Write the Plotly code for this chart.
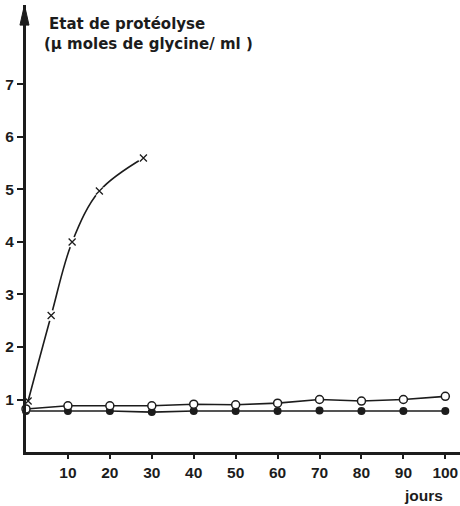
import plotly.graph_objects as go

# Data
days_cross = [0.5, 6, 11, 17.5, 28]
vals_cross = [0.97, 2.6, 4.0, 4.97, 5.6]

days = [0, 10, 20, 30, 40, 50, 60, 70, 80, 90, 100]
vals_open = [0.82, 0.88, 0.88, 0.88, 0.91, 0.90, 0.93, 1.00, 0.97, 1.00, 1.06]
vals_filled = [0.78, 0.78, 0.78, 0.76, 0.78, 0.78, 0.78, 0.79, 0.78, 0.78, 0.78]

x_ticks = [10, 20, 30, 40, 50, 60, 70, 80, 90, 100]
y_ticks = [1, 2, 3, 4, 5, 6, 7]

INK = "#1c1c1c"
FONT = "Liberation Sans"
TFONT = "DejaVu Sans"

fig = go.Figure()

# filled circles series
fig.add_trace(go.Scatter(
    x=days, y=vals_filled, mode="lines+markers",
    line=dict(color=INK, width=1.6),
    marker=dict(symbol="circle", size=8, color=INK),
    cliponaxis=False, showlegend=False))

# open circles series
fig.add_trace(go.Scatter(
    x=days, y=vals_open, mode="lines+markers",
    line=dict(color=INK, width=1.6),
    marker=dict(symbol="circle", size=8, color="white", line=dict(color=INK, width=1.5)),
    cliponaxis=False, showlegend=False))

# crosses series: line, white halo (gaps), crosses
fig.add_trace(go.Scatter(
    x=days_cross, y=vals_cross, mode="lines",
    line=dict(color=INK, width=1.6), line_shape="spline",
    cliponaxis=False, showlegend=False))
fig.add_trace(go.Scatter(
    x=days_cross[1:], y=vals_cross[1:], mode="markers",
    marker=dict(symbol="circle", size=11, color="white"),
    cliponaxis=False, showlegend=False))
fig.add_trace(go.Scatter(
    x=days_cross, y=vals_cross, mode="markers",
    marker=dict(symbol="x-thin", size=7, line=dict(color=INK, width=1.3)),
    cliponaxis=False, showlegend=False))

fig.update_layout(
    width=460, height=506,
    margin=dict(l=26, r=0, t=5, b=54),
    paper_bgcolor="white", plot_bgcolor="white",
    font=dict(family=FONT, color=INK, size=16),
    xaxis=dict(range=[0, 103.5], showgrid=False, zeroline=False,
               showline=True, linecolor=INK, linewidth=3,
               tickvals=x_ticks, ticktext=[f"<b>{v}</b>" for v in x_ticks],
               ticks="outside", ticklen=4, tickwidth=1.5, tickcolor=INK,
               tickfont=dict(size=15.5, family=FONT, color=INK)),
    yaxis=dict(range=[0, 8.514], showgrid=False, zeroline=False,
               showline=True, linecolor=INK, linewidth=3,
               tickvals=y_ticks, ticktext=[f"<b>{v}</b>" for v in y_ticks],
               ticks="outside", ticklen=6, tickwidth=1.5, tickcolor=INK,
               tickfont=dict(size=15.5, family=FONT, color=INK)),
    shapes=[dict(type="path", xref="paper", yref="paper",
                 path="M -0.0035,1.0 L 0.0069,0.955 L -0.0139,0.955 Z",
                 fillcolor=INK, line=dict(color=INK, width=1))],
    annotations=[
        dict(text="<b>Etat de protéolyse</b>", xref="paper", yref="paper",
             x=0.048, y=0.9575, xanchor="left", yanchor="middle",
             showarrow=False, font=dict(size=15, family=TFONT, color=INK)),
        dict(text="<b>(µ moles de glycine/ ml )</b>", xref="paper", yref="paper",
             x=0.037, y=0.913, xanchor="left", yanchor="middle",
             showarrow=False, font=dict(size=15, family=TFONT, color=INK)),
        dict(text="<b>jours</b>", xref="paper", yref="paper",
             x=0.917, y=-0.0962, xanchor="center", yanchor="middle",
             showarrow=False, font=dict(size=15.5, family=FONT, color=INK)),
    ],
)

fig.write_html("out.html", config={"displayModeBar": False},
               post_script="document.body.style.margin='0px';")
